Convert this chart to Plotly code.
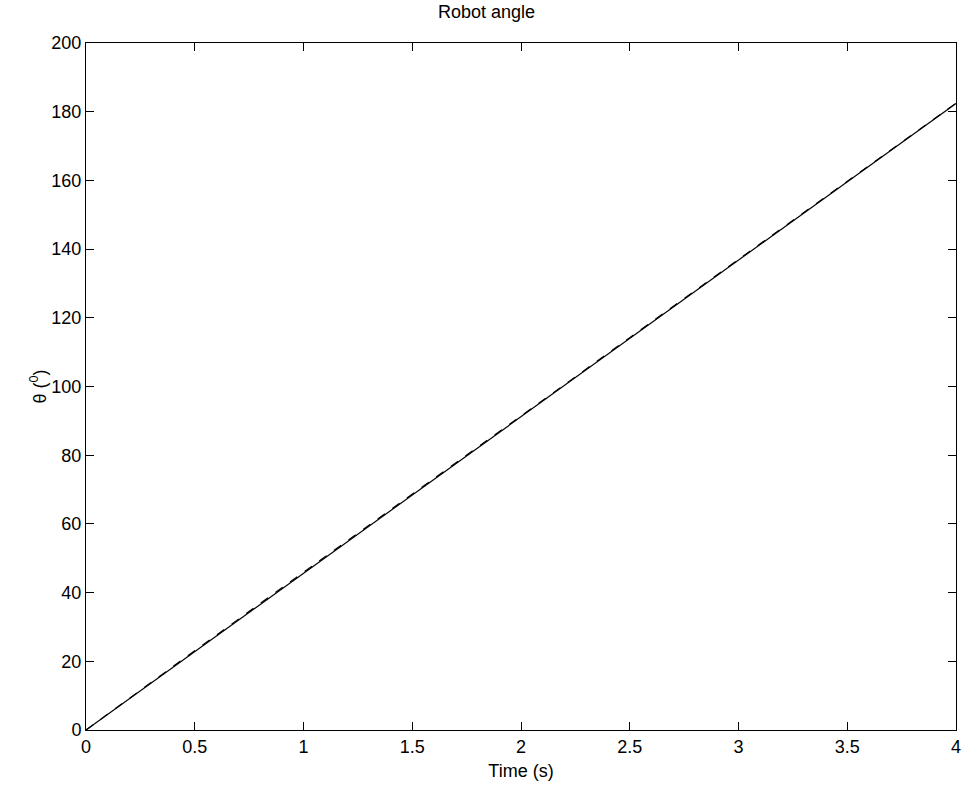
import plotly.graph_objects as go

time_s = [0, 0.5, 1.0, 1.5, 2.0, 2.5, 3.0, 3.5, 4.0]
theta_actual = [0, 22.8, 45.6, 68.4, 91.2, 114.0, 136.8, 159.6, 182.4]
theta_ref = [0, 23.1, 45.9, 68.6, 91.4, 114.2, 137.0, 159.7, 182.5]

x_ticks = [0, 0.5, 1, 1.5, 2, 2.5, 3, 3.5, 4]
x_tick_text = ["0", "0.5", "1", "1.5", "2", "2.5", "3", "3.5", "4"]
y_ticks = [0, 20, 40, 60, 80, 100, 120, 140, 160, 180, 200]

FAM = "Liberation Sans, Arial, Helvetica, sans-serif"
SZ = 18

fig = go.Figure()
fig.add_trace(go.Scatter(x=time_s, y=theta_actual, mode="lines",
                         line=dict(color="black", width=1.2), showlegend=False))
fig.add_trace(go.Scatter(x=time_s, y=theta_ref, mode="lines",
                         line=dict(color="black", width=1.2, dash="dash"), showlegend=False))

fig.update_layout(
    width=973, height=789,
    margin=dict(l=86, r=14, t=43, b=58),
    paper_bgcolor="white", plot_bgcolor="white",
    font=dict(family=FAM, size=SZ, color="black"),
    title=dict(text="Robot angle", x=0.5, xanchor="center", y=1 - 12/789, yanchor="middle",
               font=dict(family=FAM, size=SZ, color="black")),
)
fig.update_xaxes(range=[0, 4], tickvals=x_ticks, ticktext=x_tick_text,
                 tickfont=dict(family=FAM, size=SZ, color="black"),
                 ticks="inside", ticklen=8, tickcolor="black", mirror="ticks",
                 showline=True, linecolor="black", linewidth=1, showgrid=False, zeroline=False,
                 title=dict(text="Time (s)", standoff=8, font=dict(family=FAM, size=SZ, color="black")))
fig.update_yaxes(range=[0, 200], tickvals=y_ticks,
                 tickfont=dict(family=FAM, size=SZ, color="black"),
                 ticks="inside", ticklen=8, tickcolor="black", mirror="ticks",
                 showline=True, linecolor="black", linewidth=1, showgrid=False, zeroline=False,
                 title=dict(text="θ (<sup>0</sup>)", standoff=0, font=dict(family=FAM, size=SZ, color="black")))

fig.write_html("out.html")
